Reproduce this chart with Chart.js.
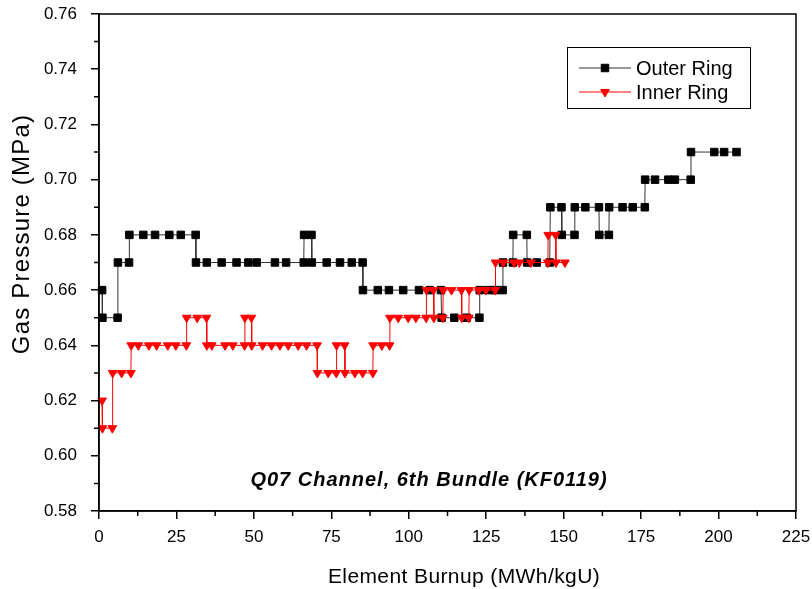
<!DOCTYPE html>
<html>
<head>
<meta charset="utf-8">
<script src="https://cdn.jsdelivr.net/npm/chart.js@4.4.0/dist/chart.umd.min.js"></script>
<style>
  html, body { margin: 0; padding: 0; background: #fff; }
</style>
</head>
<body>
<canvas id="myChart" width="812" height="589"></canvas>
<script>
// Outer ring: burnup (MWh/kgU) and gas pressure (MPa)
var outerBurnup = [
  1.0, 1.1, 6.0, 6.1, 9.7, 9.8,
  14.3, 18.1, 22.7, 26.4, 31.2, 31.3,
  34.8, 39.6, 44.4, 48.2, 50.9, 56.8, 60.4, 66.1, 66.2, 68.6, 68.7,
  73.5, 77.8, 81.6, 85.1, 85.2,
  90.0, 93.6, 98.2, 103.3, 106.8, 110.4, 110.6,
  114.7, 118.7, 122.8, 122.9, 125.6, 127.8, 130.3, 130.4,
  133.6, 133.7, 138.1, 138.2, 141.3, 145.5, 145.7,
  149.3, 149.4, 153.5, 153.6, 157.0, 161.4, 161.5, 164.6, 164.7,
  169.0, 172.3, 176.2, 176.3, 179.5, 183.8, 185.9, 191.0, 191.1,
  198.6, 201.8, 205.8
];
var outerPressure = [
  0.66, 0.65, 0.65, 0.67, 0.67, 0.68,
  0.68, 0.68, 0.68, 0.68, 0.68, 0.67,
  0.67, 0.67, 0.67, 0.67, 0.67, 0.67, 0.67, 0.67, 0.68, 0.68, 0.67,
  0.67, 0.67, 0.67, 0.67, 0.66,
  0.66, 0.66, 0.66, 0.66, 0.66, 0.66, 0.65,
  0.65, 0.65, 0.65, 0.66, 0.66, 0.66, 0.66, 0.67,
  0.67, 0.68, 0.68, 0.67, 0.67, 0.67, 0.69,
  0.69, 0.68, 0.68, 0.69, 0.69, 0.69, 0.68, 0.68, 0.69,
  0.69, 0.69, 0.69, 0.70, 0.70, 0.70, 0.70, 0.70, 0.71,
  0.71, 0.71, 0.71
];

// Inner ring
var innerBurnup = [
  1.0, 1.1, 4.3, 4.4, 7.3, 10.3, 10.4,
  12.7, 16.1, 18.6, 22.2, 24.8, 28.2, 28.3,
  31.7, 34.7, 34.8, 36.4, 40.7, 43.2, 47.0, 47.1, 49.2, 49.3,
  52.8, 55.7, 58.4, 61.1, 64.3, 67.0, 70.4, 70.5,
  74.0, 76.6, 76.7, 79.3, 79.4, 82.6, 85.1, 88.4, 88.5,
  91.3, 93.8, 93.9, 96.6, 99.8, 102.3, 105.6, 105.7,
  108.0, 108.1, 111.0, 111.1, 113.8, 117.0, 117.1, 119.4, 119.5,
  122.6, 124.9, 127.9, 128.0, 130.5, 134.0, 135.7, 139.4,
  144.9, 145.0, 147.4, 147.5, 150.4
];
var innerPressure = [
  0.62, 0.61, 0.61, 0.63, 0.63, 0.63, 0.64,
  0.64, 0.64, 0.64, 0.64, 0.64, 0.64, 0.65,
  0.65, 0.65, 0.64, 0.64, 0.64, 0.64, 0.64, 0.65, 0.65, 0.64,
  0.64, 0.64, 0.64, 0.64, 0.64, 0.64, 0.64, 0.63,
  0.63, 0.63, 0.64, 0.64, 0.63, 0.63, 0.63, 0.63, 0.64,
  0.64, 0.64, 0.65, 0.65, 0.65, 0.65, 0.65, 0.66,
  0.66, 0.65, 0.65, 0.66, 0.66, 0.66, 0.65, 0.65, 0.66,
  0.66, 0.66, 0.66, 0.67, 0.67, 0.67, 0.67, 0.67,
  0.67, 0.68, 0.68, 0.67, 0.67
];

var xTicks = [0, 25, 50, 75, 100, 125, 150, 175, 200, 225];
var yTicks = [0.58, 0.60, 0.62, 0.64, 0.66, 0.68, 0.70, 0.72, 0.74, 0.76];
var seriesNames = ["Outer Ring", "Inner Ring"];
var xTitle = "Element Burnup (MWh/kgU)";
var yTitle = "Gas Pressure (MPa)";
var noteText = "Q07 Channel, 6th Bundle (KF0119)";

var fontFamily = "'Liberation Sans', Arial, Helvetica, sans-serif";

function toPoints(xs, ys) {
  var pts = [];
  for (var i = 0; i < xs.length; i++) {
    pts.push({ x: xs[i], y: ys[i] });
  }
  return pts;
}

// frame, minor ticks, axis titles, legend box and the note
var extrasPlugin = {
  id: "extras",
  afterDraw: function (chart) {
    var ctx = chart.ctx;
    var a = chart.chartArea;
    var xs = chart.scales.x;
    var ys = chart.scales.y;
    ctx.save();
    ctx.strokeStyle = "#000";
    ctx.lineWidth = 1.5;
    ctx.strokeRect(a.left, a.top, a.right - a.left, a.bottom - a.top);

    // minor ticks halfway between major ones
    ctx.beginPath();
    for (var i = 0; i < xTicks.length - 1; i++) {
      var px = xs.getPixelForValue((xTicks[i] + xTicks[i + 1]) / 2);
      ctx.moveTo(px, a.bottom);
      ctx.lineTo(px, a.bottom + 5);
    }
    for (var j = 0; j < yTicks.length - 1; j++) {
      var py = ys.getPixelForValue((yTicks[j] + yTicks[j + 1]) / 2);
      ctx.moveTo(a.left, py);
      ctx.lineTo(a.left - 5, py);
    }
    ctx.stroke();

    ctx.fillStyle = "#000";
    ctx.textBaseline = "middle";
    ctx.textAlign = "center";

    // axis titles
    ctx.font = "21px " + fontFamily;
    ctx.letterSpacing = "0.4px";
    ctx.fillText(xTitle, 464, 577);
    ctx.save();
    ctx.translate(22, 234);
    ctx.rotate(-Math.PI / 2);
    ctx.font = "24px " + fontFamily;
    ctx.letterSpacing = "1.2px";
    ctx.fillText(yTitle, 0, 0);
    ctx.restore();

    // note
    ctx.font = "italic bold 20px " + fontFamily;
    ctx.letterSpacing = "1px";
    ctx.fillText(noteText, 429, 480);
    ctx.letterSpacing = "0px";

    // legend
    ctx.lineWidth = 1;
    ctx.strokeStyle = "#000";
    ctx.strokeRect(567.5, 47.5, 183, 61);
    ctx.font = "20px " + fontFamily;
    ctx.textAlign = "left";
    chart.data.datasets.forEach(function (ds, k) {
      var ly = 68 + k * 24;
      ctx.strokeStyle = ds.borderColor;
      ctx.lineWidth = 1;
      ctx.beginPath();
      ctx.moveTo(579, ly);
      ctx.lineTo(631, ly);
      ctx.stroke();
      ctx.fillStyle = ds.pointBackgroundColor;
      ctx.strokeStyle = ds.pointBorderColor;
      Chart.helpers.drawPoint(ctx, {
        pointStyle: ds.pointStyle,
        rotation: ds.pointRotation,
        radius: ds.pointRadius,
        borderWidth: 1
      }, 605, ly);
      ctx.fillStyle = "#000";
      ctx.fillText(ds.label, 636, ly + 1);
    });
    ctx.restore();
  }
};

var ctx = document.getElementById("myChart").getContext("2d");
var myChart = new Chart(ctx, {
  type: "scatter",
  data: {
    datasets: [
      {
        label: seriesNames[0],
        data: toPoints(outerBurnup, outerPressure),
        showLine: true,
        borderColor: "#333333",
        borderWidth: 1,
        pointStyle: "rect",
        pointRotation: 0,
        pointRadius: 5.3,
        pointBackgroundColor: "#000000",
        pointBorderColor: "#000000",
        pointBorderWidth: 1,
        order: 1,
        clip: false
      },
      {
        label: seriesNames[1],
        data: toPoints(innerBurnup, innerPressure),
        showLine: true,
        borderColor: "#ff0000",
        borderWidth: 1,
        pointStyle: "triangle",
        pointRotation: 180,
        pointRadius: 5,
        pointBackgroundColor: "#ff0000",
        pointBorderColor: "#ff0000",
        pointBorderWidth: 1,
        order: 0,
        clip: false
      }
    ]
  },
  options: {
    responsive: false,
    animation: false,
    layout: { padding: { left: 0, right: 16, top: 14, bottom: 0 } },
    plugins: {
      legend: { display: false },
      tooltip: { enabled: false }
    },
    elements: { line: { tension: 0 } },
    scales: {
      x: {
        type: "linear",
        min: 0,
        max: 225,
        afterBuildTicks: function (s) {
          s.ticks = xTicks.map(function (v) { return { value: v }; });
        },
        afterFit: function (s) {
          s.height = 78;
          s.paddingLeft = 0;
          s.paddingRight = 0;
        },
        border: { color: "#000", width: 1.5 },
        grid: { drawOnChartArea: false, drawTicks: true, tickLength: 8, color: "#000", lineWidth: 1.5 },
        ticks: {
          autoSkip: false,
          maxRotation: 0,
          padding: 8,
          color: "#000",
          font: { family: fontFamily, size: 17 }
        }
      },
      y: {
        type: "linear",
        min: 0.58,
        max: 0.76,
        afterBuildTicks: function (s) {
          s.ticks = yTicks.map(function (v) { return { value: v }; });
        },
        afterFit: function (s) {
          s.width = 99;
          s.paddingTop = 0;
          s.paddingBottom = 0;
        },
        border: { color: "#000", width: 1.5 },
        grid: { drawOnChartArea: false, drawTicks: true, tickLength: 8, color: "#000", lineWidth: 1.5 },
        ticks: {
          autoSkip: false,
          padding: 14,
          color: "#000",
          font: { family: fontFamily, size: 17 },
          callback: function (v) { return v.toFixed(2); }
        }
      }
    }
  },
  plugins: [extrasPlugin]
});
</script>
</body>
</html>
